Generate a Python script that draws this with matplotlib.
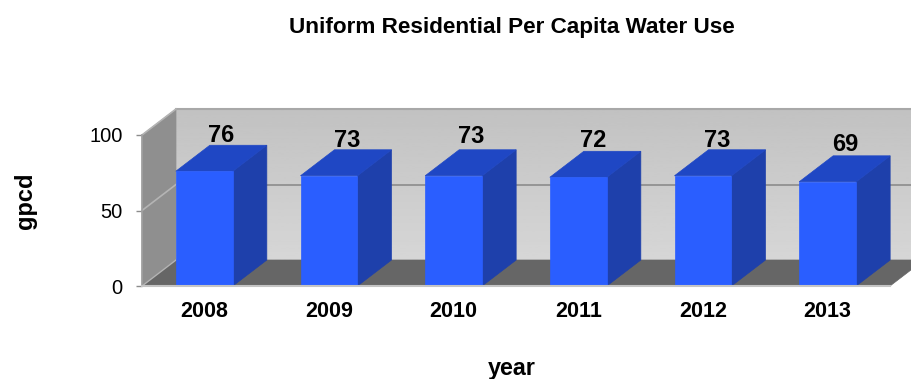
import matplotlib
matplotlib.use('Agg')
import matplotlib.pyplot as plt
from matplotlib.patches import Polygon
import numpy as np

plt.rcParams['font.family'] = ['Liberation Sans', 'DejaVu Sans']

years = ['2008', '2009', '2010', '2011', '2012', '2013']
gpcd = [76, 73, 73, 72, 73, 69]
yticks = [0, 50, 100]

# the labels in the original were placed by hand a bit, offsets in points
label_dx = [0, 1, 0.5, -1.5, -2, 0.7]
label_dy = [7, 7, 9.2, 7.7, 7, 8.5]

W, H = 911, 379
# depth of the fake 3d box, in data units
DX = 34 / 124.67
DY = 26 / 1.51
BAR_W = 57 / 124.67

fig = plt.figure(figsize=(W / 100, H / 100), dpi=100)
ax = fig.add_axes([142 / W, 1 - 286 / H, 748 / W, 151 / H])
ax.patch.set_visible(False)
for s in ax.spines.values():
    s.set_visible(False)


def poly(pts, color, z):
    ax.add_patch(Polygon(pts, closed=True, facecolor=color, edgecolor=color, lw=0.5,
                         zorder=z, clip_on=False))


# back wall, gradient is darker at the top
grad = np.linspace(0.76, 0.84, 64).reshape(-1, 1)
ax.imshow(grad, cmap='gray', vmin=0, vmax=1, aspect='auto', origin='upper',
          extent=(DX, 6 + DX, DY, 100 + DY), zorder=1, clip_on=False)
ax.set_xlim(0, 6)
ax.set_ylim(0, 100)
ax.plot([DX, 6 + DX], [100 + DY, 100 + DY], color='#a8a8a8', lw=1.5, zorder=2, clip_on=False)

# side wall and floor
poly([(0, 0), (DX, DY), (DX, 100 + DY), (0, 100)], '#8f8f8f', 2)
poly([(0, 0), (6, 0), (6 + DX, DY), (DX, DY)], '#666666', 2)

# gridlines
ax.plot([DX, 6 + DX], [50 + DY, 50 + DY], color='#8c8c8c', lw=1.2, zorder=2, clip_on=False)
ax.plot([0, DX], [50, 50 + DY], color='#b4b4b4', lw=1.2, zorder=3, clip_on=False)
ax.plot([0, DX], [100, 100 + DY], color='#b4b4b4', lw=1.2, zorder=3, clip_on=False)
ax.plot([0, DX], [0, DY], color='#b4b4b4', lw=1, zorder=3, clip_on=False)
ax.plot([0, 0], [0, 100], color='#a0a0a0', lw=1.2, zorder=3, clip_on=False)
ax.plot([0, 6], [0, 0], color='#c4c4c4', lw=1.5, zorder=6, clip_on=False)

# bars
xs = np.arange(len(years)) + 0.5
ax.bar(xs, gpcd, width=BAR_W, color='#2a5eff', edgecolor='#2a5eff', lw=0.5, zorder=5)
for x, v, ldx, ldy in zip(xs, gpcd, label_dx, label_dy):
    l, r = x - BAR_W / 2, x + BAR_W / 2
    poly([(r, 0), (r + DX, DY), (r + DX, v + DY), (r, v)], '#1e40ab', 4)
    poly([(l, v), (r, v), (r + DX, v + DY), (l + DX, v + DY)], '#1f47c4', 4)
    ax.annotate(str(v), (x + DX / 2, v + DY), xytext=(ldx, ldy), textcoords='offset points',
                ha='center', va='center', fontsize=17, fontweight='bold', color='black', zorder=7)

ax.set_xticks(xs)
ax.set_xticklabels(years, fontsize=15.5, fontweight='bold')
ax.set_yticks(yticks)
ax.tick_params(axis='x', length=0, pad=11)
ax.tick_params(axis='y', length=4, width=1, color='#8c8c8c', labelsize=14.5, pad=10)

fig.text(512 / W, 1 - 28 / H, 'Uniform Residential Per Capita Water Use', ha='center', va='center',
         fontsize=16.2, fontweight='bold')
fig.text(25 / W, 1 - 201 / H, 'gpcd', rotation=90, ha='center', va='center', fontsize=17, fontweight='bold')
fig.text(512 / W, 1 - 369 / H, 'year', ha='center', va='center', fontsize=16.8, fontweight='bold')

fig.savefig('out.png', dpi=100)
